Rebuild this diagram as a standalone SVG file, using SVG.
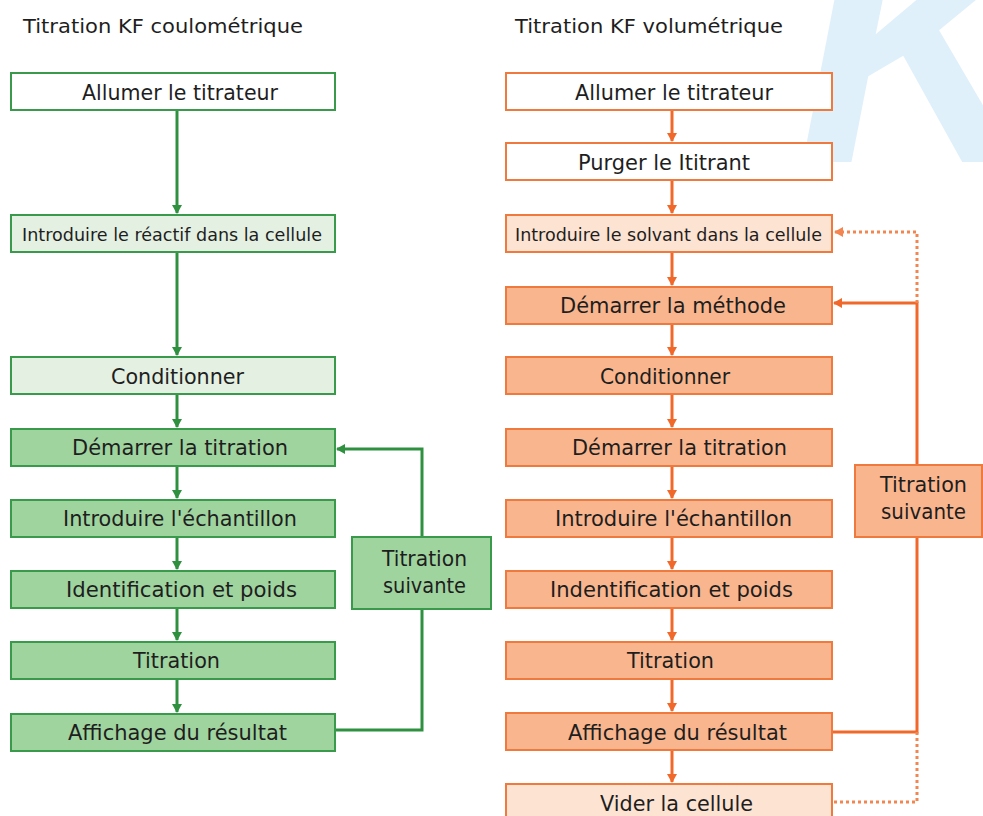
<svg xmlns="http://www.w3.org/2000/svg" width="983" height="816" viewBox="0 0 983 816">
<style>
text{font-family:"DejaVu Sans","Liberation Sans",sans-serif;fill:#1e1e1e}
.h{font-size:20px}
.t{font-size:21px}
.s{font-size:18px}
.g{stroke:#3a9a4c;stroke-width:2}
.gw{fill:#ffffff}
.gl{fill:#e4f0e2}
.gm{fill:#a0d49f}
.o{stroke:#f07a3e;stroke-width:2}
.ow{fill:#ffffff}
.ol{fill:#fde3d2}
.om{fill:#f9b68e}
.cg{fill:none;stroke:#2f9140;stroke-width:3}
.co{fill:none;stroke:#f0692a;stroke-width:3}
.cd{fill:none;stroke:#f28550;stroke-width:3;stroke-dasharray:3 3}
.wm{font-family:"Liberation Sans",sans-serif;font-style:italic;font-weight:bold;font-size:340px;fill:#dff0fb}
</style>
<defs>
<marker id="ag" markerWidth="10" markerHeight="10" refX="8" refY="5" orient="auto" markerUnits="userSpaceOnUse"><path d="M0,0 L9,5 L0,10 Z" fill="#2f9140"/></marker>
<marker id="ao" markerWidth="10" markerHeight="10" refX="8" refY="5" orient="auto" markerUnits="userSpaceOnUse"><path d="M0,0 L9,5 L0,10 Z" fill="#f0692a"/></marker>
<marker id="ad" markerWidth="10" markerHeight="10" refX="8" refY="5" orient="auto" markerUnits="userSpaceOnUse"><path d="M0,0 L9,5 L0,10 Z" fill="#f28550"/></marker>
</defs>
<rect width="983" height="816" fill="#ffffff"/>
<text class="wm" x="797" y="162">K</text>

<text class="h" x="23" y="33" textLength="280" lengthAdjust="spacingAndGlyphs">Titration KF coulométrique</text>
<text class="h" x="515" y="33" textLength="268" lengthAdjust="spacingAndGlyphs">Titration KF volumétrique</text>

<g id="connectors">
<path class="cg" d="M177,110 V213" marker-end="url(#ag)"/>
<path class="cg" d="M177,252 V355" marker-end="url(#ag)"/>
<path class="cg" d="M177,394 V427" marker-end="url(#ag)"/>
<path class="cg" d="M177,466 V498" marker-end="url(#ag)"/>
<path class="cg" d="M177,537 V569" marker-end="url(#ag)"/>
<path class="cg" d="M177,608 V640" marker-end="url(#ag)"/>
<path class="cg" d="M177,679 V712" marker-end="url(#ag)"/>
<path class="cg" d="M335,730 H422 V449 H337" marker-end="url(#ag)"/>

<path class="co" d="M672,110 V141" marker-end="url(#ao)"/>
<path class="co" d="M672,180 V213" marker-end="url(#ao)"/>
<path class="co" d="M672,252 V285" marker-end="url(#ao)"/>
<path class="co" d="M672,324 V355" marker-end="url(#ao)"/>
<path class="co" d="M672,394 V427" marker-end="url(#ao)"/>
<path class="co" d="M672,466 V498" marker-end="url(#ao)"/>
<path class="co" d="M672,537 V569" marker-end="url(#ao)"/>
<path class="co" d="M672,608 V640" marker-end="url(#ao)"/>
<path class="co" d="M672,679 V711" marker-end="url(#ao)"/>
<path class="co" d="M672,750 V782" marker-end="url(#ao)"/>
<path class="co" d="M832,732 H917 V303 H834" marker-end="url(#ao)"/>
<path class="cd" d="M917,303 V232 H835" marker-end="url(#ad)"/>
<path class="cd" d="M917,732 V802 H832"/>
</g>

<g id="g1"><rect class="g gw" x="11" y="73" width="324" height="37"/><text class="t" x="82" y="100" textLength="196" lengthAdjust="spacingAndGlyphs">Allumer le titrateur</text></g>
<g id="g2"><rect class="g gl" x="11" y="215" width="324" height="37"/><text class="s" x="22" y="241" textLength="300" lengthAdjust="spacingAndGlyphs">Introduire le réactif dans la cellule</text></g>
<g id="g3"><rect class="g gl" x="11" y="357" width="324" height="37"/><text class="t" x="111" y="384" textLength="133" lengthAdjust="spacingAndGlyphs">Conditionner</text></g>
<g id="g4"><rect class="g gm" x="11" y="429" width="324" height="37"/><text class="t" x="72" y="455" textLength="216" lengthAdjust="spacingAndGlyphs">Démarrer la titration</text></g>
<g id="g5"><rect class="g gm" x="11" y="500" width="324" height="37"/><text class="t" x="63" y="526" textLength="234" lengthAdjust="spacingAndGlyphs">Introduire l'échantillon</text></g>
<g id="g6"><rect class="g gm" x="11" y="571" width="324" height="37"/><text class="t" x="66" y="597" textLength="231" lengthAdjust="spacingAndGlyphs">Identification et poids</text></g>
<g id="g7"><rect class="g gm" x="11" y="642" width="324" height="37"/><text class="t" x="133" y="668" textLength="87" lengthAdjust="spacingAndGlyphs">Titration</text></g>
<g id="g8"><rect class="g gm" x="11" y="714" width="324" height="37"/><text class="t" x="68" y="740" textLength="219" lengthAdjust="spacingAndGlyphs">Affichage du résultat</text></g>
<g id="g9"><rect class="g gm" x="352" y="537" width="139" height="72"/><text class="t" x="382" y="566" textLength="85" lengthAdjust="spacingAndGlyphs">Titration</text><text class="t" x="383" y="593" textLength="83" lengthAdjust="spacingAndGlyphs">suivante</text></g>

<g id="o1"><rect class="o ow" x="506" y="73" width="326" height="37"/><text class="t" x="575" y="100" textLength="198" lengthAdjust="spacingAndGlyphs">Allumer le titrateur</text></g>
<g id="o2"><rect class="o ow" x="506" y="143" width="326" height="37"/><text class="t" x="578" y="170" textLength="172" lengthAdjust="spacingAndGlyphs">Purger le Ititrant</text></g>
<g id="o3"><rect class="o ol" x="506" y="215" width="326" height="37"/><text class="s" x="515" y="241" textLength="307" lengthAdjust="spacingAndGlyphs">Introduire le solvant dans la cellule</text></g>
<g id="o4"><rect class="o om" x="506" y="287" width="326" height="37"/><text class="t" x="560" y="313" textLength="226" lengthAdjust="spacingAndGlyphs">Démarrer la méthode</text></g>
<g id="o5"><rect class="o om" x="506" y="357" width="326" height="37"/><text class="t" x="600" y="384" textLength="130" lengthAdjust="spacingAndGlyphs">Conditionner</text></g>
<g id="o6"><rect class="o om" x="506" y="429" width="326" height="37"/><text class="t" x="572" y="455" textLength="215" lengthAdjust="spacingAndGlyphs">Démarrer la titration</text></g>
<g id="o7"><rect class="o om" x="506" y="500" width="326" height="37"/><text class="t" x="555" y="526" textLength="237" lengthAdjust="spacingAndGlyphs">Introduire l'échantillon</text></g>
<g id="o8"><rect class="o om" x="506" y="571" width="326" height="37"/><text class="t" x="550" y="597" textLength="243" lengthAdjust="spacingAndGlyphs">Indentification et poids</text></g>
<g id="o9"><rect class="o om" x="506" y="642" width="326" height="37"/><text class="t" x="627" y="668" textLength="87" lengthAdjust="spacingAndGlyphs">Titration</text></g>
<g id="o10"><rect class="o om" x="506" y="713" width="326" height="37"/><text class="t" x="568" y="740" textLength="219" lengthAdjust="spacingAndGlyphs">Affichage du résultat</text></g>
<g id="o11"><rect class="o ol" x="506" y="784" width="326" height="40"/><text class="t" x="600" y="811" textLength="153" lengthAdjust="spacingAndGlyphs">Vider la cellule</text></g>
<g id="o12"><rect class="o om" x="855" y="465" width="127" height="72"/><text class="t" x="880" y="492" textLength="87" lengthAdjust="spacingAndGlyphs">Titration</text><text class="t" x="881" y="519" textLength="85" lengthAdjust="spacingAndGlyphs">suivante</text></g>
</svg>
